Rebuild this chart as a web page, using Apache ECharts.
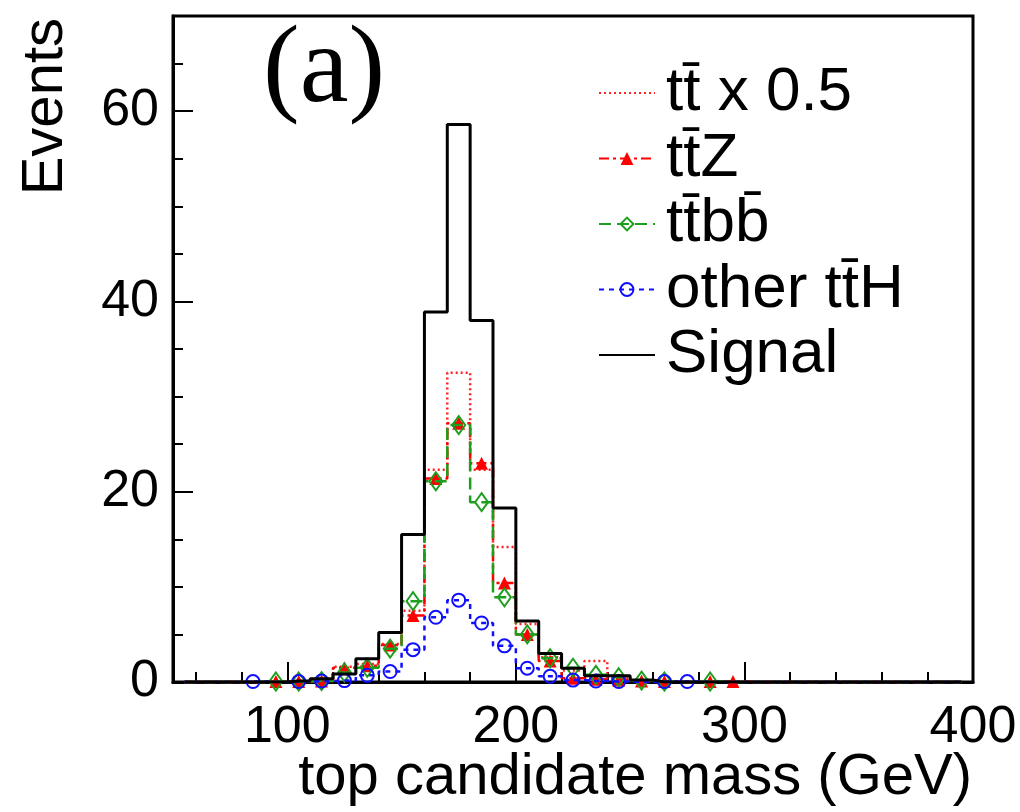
<!DOCTYPE html>
<html><head><meta charset="utf-8">
<script src="https://cdn.jsdelivr.net/npm/echarts@6/dist/echarts.min.js"></script>
<style>html,body{margin:0;padding:0;background:#fff}#c{width:1020px;height:812px}</style>
</head><body><div id="c"></div>
<script>
// bin centres (GeV), 10 GeV bins from 50 to 400
const binCenters = [55,65,75,85,95,105,115,125,135,145,155,165,175,185,195,205,215,225,235,245,255,265,275,285,295,305,315,325,335,345,355,365,375,385,395];
const ttbarHalf  = [0,0,0,0,0,0.05,0.3,1.6,1.9,4.0,7.5,22.3,32.5,22.3,14.2,6.1,2.6,1.2,2.2,0.4,0.1,0,0,0,0,0,0,0,0,0,0,0,0,0,0];
const ttZ        = [0,0,0,0,0.05,0.05,0.1,1.5,1.7,3.9,7.0,21.4,27.2,23.0,10.4,5.0,2.2,0.4,0.3,0.2,0.1,0.05,0,0.05,0.05,0,0,0,0,0,0,0,0,0,0];
const ttbb       = [0,0,0,0,0.05,0.05,0.1,1.0,1.5,3.5,8.5,21.1,27.0,18.9,8.9,5.0,2.5,1.5,0.75,0.5,0.15,0.05,0,0.05,0,0,0,0,0,0,0,0,0,0,0];
const otherttH   = [0,0,0,0.05,0,0.05,0.1,0.15,0.7,1.1,3.4,6.8,8.6,6.2,3.8,1.45,0.6,0.2,0.1,0.05,0,0.05,0.05,0,0,0,0,0,0,0,0,0,0,0,0];
const signal     = [0,0,0,0,0,0.1,0.35,0.85,2.45,5.2,15.5,38.9,58.6,38.0,18.3,6.4,3.0,1.45,0.66,0.66,0.2,0,0,0,0,0,0,0,0,0,0,0,0,0,0];
const xTickLabels = [100,200,300,400];
const yTickLabels = [0,20,40,60];
const seriesNames = ['tt\u0304 x 0.5','tt\u0304Z','tt\u0304bb\u0304','other tt\u0304H','Signal'];

function pts(vals){ return binCenters.map((c,i)=>[c, vals[i]]); }
const FONT = 'Liberation Sans';
const chart = echarts.init(document.getElementById('c'), null, {renderer:'canvas'});
function markerSize(s){ return function(v){ return v[1] > 0 ? s : 0; }; }
const noSym = {opacity:0};

chart.setOption({
  animation:false,
  backgroundColor:'#fff',
  grid:{left:173,right:47,top:16,bottom:130,show:true,borderColor:'#000',borderWidth:3,containLabel:false},
  legend:{
    show:true, orient:'vertical', left:598, top:62, itemWidth:56, itemHeight:16, itemGap:3.5,
    selectedMode:false, padding:0,
    textStyle:{fontFamily:FONT,fontSize:62,color:'#000',padding:[0,0,0,6]},
    data:[
      {name:seriesNames[0],itemStyle:noSym},
      {name:seriesNames[1]},
      {name:seriesNames[2]},
      {name:seriesNames[3]},
      {name:seriesNames[4],itemStyle:noSym}
    ]
  },
  xAxis:[
    {type:'value',min:50,max:400,splitNumber:4,position:'bottom',
     axisLine:{show:true,lineStyle:{color:'#000',width:3}},
     axisTick:{show:true,inside:true,length:20,lineStyle:{color:'#000',width:2}},
     axisLabel:{fontFamily:FONT,fontSize:52,color:'#000',margin:20,
       formatter:function(v){return xTickLabels.indexOf(v)>=0?String(v):'';}},
     splitLine:{show:false}},
    {type:'value',min:50,max:400,splitNumber:18,position:'bottom',offset:0,
     axisLine:{show:false},
     axisTick:{show:true,inside:true,length:10,lineStyle:{color:'#000',width:2}},
     axisLabel:{show:false},splitLine:{show:false}}
  ],
  yAxis:[
    {type:'value',min:0,max:70,interval:20,position:'left',
     axisLine:{show:true,lineStyle:{color:'#000',width:3}},
     axisTick:{show:true,inside:true,length:20,lineStyle:{color:'#000',width:2}},
     axisLabel:{fontFamily:FONT,fontSize:52,color:'#000',margin:14,
       formatter:function(v){return yTickLabels.indexOf(v)>=0?String(v):'';}},
     splitLine:{show:false}},
    {type:'value',min:0,max:70,interval:5,position:'left',offset:0,
     axisLine:{show:false},
     axisTick:{show:true,inside:true,length:10,lineStyle:{color:'#000',width:2}},
     axisLabel:{show:false},splitLine:{show:false}}
  ],
  graphic:[
    {type:'text',x:46,y:18,rotation:Math.PI/2,
     style:{text:'Events',fontFamily:FONT,fontSize:58,fill:'#000',align:'right',verticalAlign:'middle'}},
    {type:'text',x:972,y:778,
     style:{text:'top candidate mass (GeV)',fontFamily:FONT,fontSize:58,fill:'#000',align:'right',verticalAlign:'middle'}},
    {type:'text',x:263,y:17,
     style:{text:'(a)',fontFamily:'Liberation Serif',fontSize:110,fill:'#000',align:'left',verticalAlign:'top'}}
  ],
  series:[
    {name:seriesNames[0],type:'line',step:'middle',data:pts(ttbarHalf),symbol:'none',
     lineStyle:{color:'#ff2020',width:2.5,type:[2,3]},itemStyle:{color:'#ff2020'},z:2},
    {name:seriesNames[1],type:'line',step:'middle',data:pts(ttZ),symbol:'triangle',symbolSize:markerSize(13),
     showAllSymbol:true,clip:false,
     lineStyle:{color:'#ff0000',width:2.5,type:[10,4,3,4]},itemStyle:{color:'#ff0000'},z:3},
    {name:seriesNames[2],type:'line',step:'middle',data:pts(ttbb),symbol:'diamond',symbolSize:markerSize([13,18]),
     showAllSymbol:true,clip:false,
     lineStyle:{color:'#1e9e1e',width:2.5,type:[12,6]},itemStyle:{color:'rgba(255,255,255,0)',borderColor:'#1e9e1e',borderWidth:2},z:4},
    {name:seriesNames[3],type:'line',step:'middle',data:pts(otherttH),symbol:'circle',symbolSize:markerSize(13),
     showAllSymbol:true,clip:false,
     lineStyle:{color:'#1010ff',width:2.5,type:[5,5]},itemStyle:{color:'rgba(255,255,255,0)',borderColor:'#1010ff',borderWidth:2},z:5},
    {name:seriesNames[4],type:'line',step:'middle',data:pts(signal),symbol:'none',
     lineStyle:{color:'#000',width:3,type:'solid'},itemStyle:{color:'#000'},z:6}
  ]
});
</script></body></html>
